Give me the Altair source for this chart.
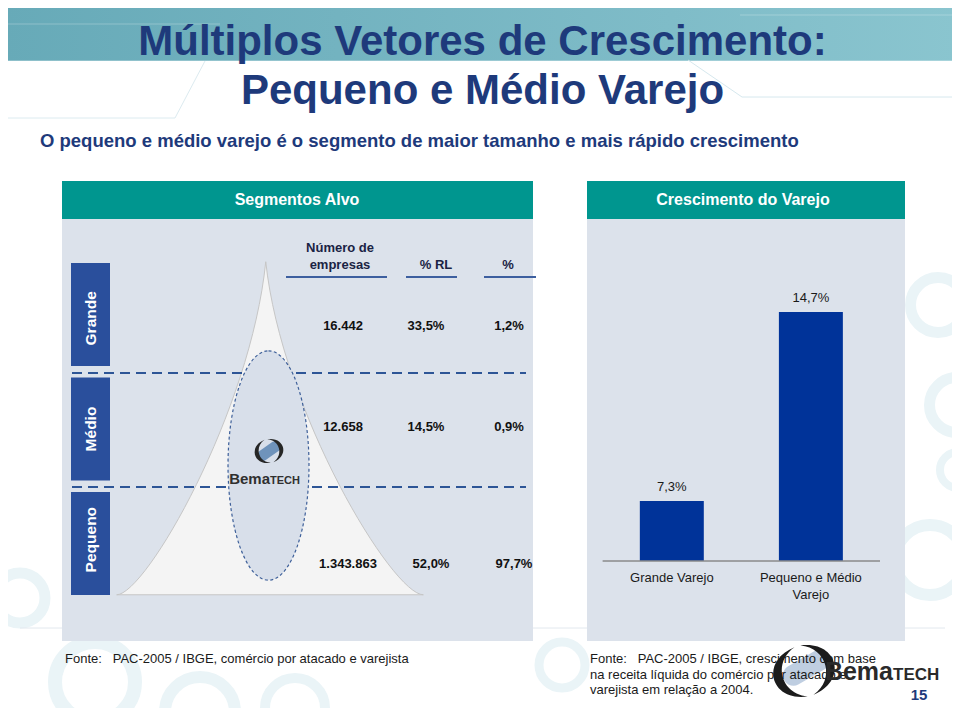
import altair as alt
import pandas as pd

# ---------------- data ----------------
segments = ["Grande", "Médio", "Pequeno"]
table_columns = ["Número de empresas", "% RL", "%"]
numero_empresas = ["16.442", "12.658", "1.343.863"]
pct_rl = ["33,5%", "14,5%", "52,0%"]
pct_empresas = ["1,2%", "0,9%", "97,7%"]

growth_categories = ["Grande Varejo", "Pequeno e Médio Varejo"]
growth_axis_labels = ["Grande Varejo", "Pequeno e Médio\nVarejo"]
growth_values = [7.3, 14.7]
growth_labels = ["7,3%", "14,7%"]

title_lines = ["Múltiplos Vetores de Crescimento:", "Pequeno e Médio Varejo"]
subtitle = "O pequeno e médio varejo é o segmento de maior tamanho e mais rápido crescimento"
left_header = "Segmentos Alvo"
right_header = "Crescimento do Varejo"
header_lines = ["Número de", "empresas", "% RL", "%"]
source_left = "Fonte:\u00a0\u00a0 PAC-2005 / IBGE, comércio por atacado e varejista"
source_right = ["Fonte:\u00a0\u00a0 PAC-2005 / IBGE, crescimento com base",
                "na receita líquida do comércio por atacado e",
                "varejista em relação a 2004."]
logo_word = ["Bema", "TECH"]
page_number = "15"

# ---------------- layout helpers ----------------
FONT = "Liberation Sans"
NAVY = "#1e3a7b"
TEAL = "#00968f"
PANEL = "#dce2eb"
W, H = 944, 700
one = pd.DataFrame({"k": [0]})


def P(v):
    return v - 8  # page pixel -> plot pixel (8px page margin)


def rect(x1, y1, x2, y2, **kw):
    return alt.Chart(one).mark_rect(**kw).encode(
        x=alt.value(P(x1)), x2=alt.value(P(x2)), y=alt.value(P(y1)), y2=alt.value(P(y2)))


def rule(x1, y1, x2, y2, **kw):
    return alt.Chart(one).mark_rule(**kw).encode(
        x=alt.value(P(x1)), x2=alt.value(P(x2)), y=alt.value(P(y1)), y2=alt.value(P(y2)))


def text(s, x, y, **kw):
    kw.setdefault("font", FONT)
    return alt.Chart(one).mark_text(text=s, **kw).encode(x=alt.value(P(x)), y=alt.value(P(y)))


def symbol(shape, x, y, size, **kw):
    return alt.Chart(one).mark_point(shape=shape, size=size, **kw).encode(
        x=alt.value(P(x)), y=alt.value(P(y)))


layers = []

# ---- slide background decoration ----
band = alt.LinearGradient(gradient="linear", x1=0, x2=1, y1=0, y2=0,
                          stops=[alt.GradientStop(color="#67aab8", offset=0),
                                 alt.GradientStop(color="#7fbcc8", offset=0.7),
                                 alt.GradientStop(color="#8ac5cf", offset=1)])
layers.append(rect(5, 0, 956, 60.7, fill=band))
layers.append(rule(5, 24, 220, 24, color="#ffffff", opacity=0.25, strokeWidth=1))
layers.append(rule(740, 15, 956, 15, color="#ffffff", opacity=0.25, strokeWidth=1))
layers.append(rule(688, 60, 742, 97, color="#d6e8ee", strokeWidth=1))
layers.append(rule(742, 97, 956, 97, color="#d6e8ee", strokeWidth=1))
layers.append(rule(5, 118, 175, 118, color="#dcebf0", strokeWidth=1))
layers.append(rule(175, 118, 205, 61, color="#dcebf0", strokeWidth=1))
for (cx, cy, d, w) in [(20, 598, 50, 11), (95, 682, 80, 14), (200, 712, 70, 12),
                       (295, 708, 60, 10), (938, 305, 55, 11), (957, 405, 55, 11),
                       (930, 560, 70, 12), (958, 470, 36, 8), (562, 665, 46, 9)]:
    layers.append(symbol("circle", cx, cy, d * d, filled=False, stroke="#eaf4f7",
                         strokeWidth=w, opacity=1))
layers.append(rule(20, 628, 945, 628, color="#e2e8ee", strokeWidth=1))
layers.append(rule(0, 712, 960, 712, color="#e6e6e6", strokeWidth=1))

# ---- titles ----
layers.append(text(title_lines[0], 482.5, 55, fontSize=42, fontWeight="bold", color=NAVY,
                   align="center", baseline="alphabetic"))
layers.append(text(title_lines[1], 482.5, 104, fontSize=42, fontWeight="bold", color=NAVY,
                   align="center", baseline="alphabetic"))
layers.append(text(subtitle, 40, 147, fontSize=18.5, fontWeight="bold", color=NAVY,
                   align="left", baseline="alphabetic"))

# ---- panels ----
layers.append(rect(62, 219, 533, 641, color=PANEL))
layers.append(rect(587, 219, 905, 641, color=PANEL))
layers.append(rect(62, 181, 533, 219, color=TEAL))
layers.append(rect(587, 181, 905, 219, color=TEAL))
layers.append(text(left_header, 297, 200, fontSize=16, fontWeight="bold", color="white",
                   align="center", baseline="middle"))
layers.append(text(right_header, 743, 200, fontSize=16, fontWeight="bold", color="white",
                   align="center", baseline="middle"))

# ---- pyramid, separators, ellipse, logo ----
tri_path = ("M -0.025 -0.978 C -0.114 -0.096 -0.731 0.981 -0.902 0.981 "
            "L 0.902 0.981 C 0.722 0.981 0.069 -0.096 -0.025 -0.978 Z")
layers.append(symbol(tri_path, 270, 428, 340 ** 2, filled=True, fill="#f4f4f4",
                     stroke="#c6c6c6", strokeWidth=1, opacity=1))
for yy in (373, 487):
    layers.append(rule(72, yy, 526, yy, color="#2d5596", strokeWidth=2.2, strokeDash=[10, 6]))
ell_path = ("M 0 -1 C 0.195 -1 0.353 -0.552 0.353 0 C 0.353 0.552 0.195 1 0 1 "
            "C -0.195 1 -0.353 0.552 -0.353 0 C -0.353 -0.552 -0.195 -1 0 -1 Z")
layers.append(symbol(ell_path, 268.5, 465.5, 229.4 ** 2, filled=True, fill="#d8dfea",
                     stroke="#3d5f99", strokeWidth=1.2, strokeDash=[3, 2.5], opacity=1))
left_cres = ("M -0.1 -0.85 C -1.35 -0.7 -1.35 0.7 -0.1 0.85 "
             "C -0.95 0.55 -0.95 -0.55 -0.1 -0.85 Z")
right_cres = ("M 0.1 0.85 C 1.35 0.7 1.35 -0.7 0.1 -0.85 "
              "C 0.95 -0.55 0.95 0.55 0.1 0.85 Z")
pill = ("M -0.6 -0.42 L 0.6 -0.42 C 0.82 -0.42 1 -0.22 1 0 C 1 0.22 0.82 0.42 0.6 0.42 "
        "L -0.6 0.42 C -0.82 0.42 -1 0.22 -1 0 C -1 -0.22 -0.82 -0.42 -0.6 -0.42 Z")
layers.append(symbol(pill, 269, 451, 26 ** 2, filled=True, fill="#6f93bb", angle=325, opacity=1))
layers.append(symbol(left_cres, 269, 451, 28 ** 2, filled=True, fill="#262626", angle=345, opacity=1))
layers.append(symbol(right_cres, 269, 451, 28 ** 2, filled=True, fill="#262626", angle=345, opacity=1))
layers.append(text(logo_word[0], 270, 484, fontSize=15, fontWeight="bold", color="#303030",
                   align="right", baseline="alphabetic"))
layers.append(text(logo_word[1], 270, 484, fontSize=11, fontWeight="bold", color="#303030",
                   align="left", baseline="alphabetic"))

# ---- segment boxes (band scale) ----
seg_df = pd.DataFrame({"segmento": segments})
seg_scale = alt.Scale(domain=segments, range=[P(263), P(595)], paddingInner=0.1, paddingOuter=0)
y_seg = alt.Y("segmento:N", sort=segments, axis=None, scale=seg_scale)
layers.append(alt.Chart(seg_df).mark_rect(color="#2a4f9c").encode(
    x=alt.value(P(71)), x2=alt.value(P(110)), y=y_seg))
layers.append(alt.Chart(seg_df).mark_text(angle=270, color="white", fontWeight="bold",
                                          fontSize=15.5, font=FONT, baseline="middle").encode(
    x=alt.value(P(91)), y=y_seg, text="segmento:N"))

# ---- table headers ----
HDR = "#1a2344"
layers.append(text(header_lines[0], 340, 248, fontSize=13, fontWeight="bold", color=HDR,
                   align="center", baseline="middle"))
layers.append(text(header_lines[1], 340, 265, fontSize=13, fontWeight="bold", color=HDR,
                   align="center", baseline="middle"))
layers.append(text(header_lines[2], 436, 265, fontSize=13, fontWeight="bold", color=HDR,
                   align="center", baseline="middle"))
layers.append(text(header_lines[3], 508, 265, fontSize=13, fontWeight="bold", color=HDR,
                   align="center", baseline="middle"))
for (a, b) in [(286, 387), (406, 457), (484, 536)]:
    layers.append(rule(a, 277, b, 277, color="#3d5f9f", strokeWidth=2))

# ---- table values ----
rows = []
for i, s in enumerate(segments):
    rows.append({"segmento": s, "coluna": table_columns[0], "valor": numero_empresas[i]})
    rows.append({"segmento": s, "coluna": table_columns[1], "valor": pct_rl[i]})
    rows.append({"segmento": s, "coluna": table_columns[2], "valor": pct_empresas[i]})
table_df = pd.DataFrame(rows)
x_col = alt.X("coluna:N", axis=None,
              scale=alt.Scale(type="point", domain=table_columns, range=[P(343), P(509)], padding=0))
row_offset = {"Grande": (0, 7.5), "Médio": (0, -2), "Pequeno": (5, 24)}
for s in segments:
    dx, dy = row_offset[s]
    layers.append(alt.Chart(table_df).transform_filter(alt.datum.segmento == s).mark_text(
        fontSize=13, fontWeight="bold", color="#111111", font=FONT, dx=dx, dy=dy,
        baseline="middle").encode(x=x_col, y=y_seg, text="valor:N"))

# ---- growth bar chart ----
growth_df = pd.DataFrame({"categoria": growth_categories, "crescimento": growth_values,
                          "rotulo": growth_labels, "rotulo_eixo": growth_axis_labels})
y_base = 4.95
y_top = 15
px_per_unit = 25.54
x_bar_scale = alt.Scale(domain=growth_categories, range=[P(602.7), P(880)],
                        paddingInner=0.54, paddingOuter=0.267)
y_bar_scale = alt.Scale(domain=[y_base, y_top],
                        range=[P(561), P(561 - px_per_unit * (y_top - y_base))], zero=False)
x_bar = alt.X("categoria:N", sort=growth_categories, axis=None, scale=x_bar_scale)
y_bar = alt.Y("crescimento:Q", axis=None, scale=y_bar_scale)
bar_base = alt.Chart(growth_df)
bars = bar_base.mark_bar(color="#003399").encode(x=x_bar, y=y_bar, y2=alt.datum(y_base))
bar_vals = bar_base.mark_text(fontSize=13, color="#1a1a1a", font=FONT, baseline="bottom",
                              dy=-7).encode(x=x_bar, y=y_bar, text="rotulo:N")
bar_cats = bar_base.mark_text(fontSize=13, color="#1a1a1a", font=FONT, baseline="top",
                              dy=11, lineBreak="\n", lineHeight=17).encode(
    x=x_bar, y=alt.YDatum(y_base, type="quantitative", scale=y_bar_scale), text="rotulo_eixo:N")
bar_axis = bar_base.mark_rule(color="#8a8a8a", strokeWidth=1).encode(
    x=alt.value(P(602.7)), x2=alt.value(P(880)),
    y=alt.YDatum(y_base, type="quantitative", scale=y_bar_scale))
layers.append(alt.layer(bars, bar_vals, bar_cats, bar_axis))

# ---- footer ----
layers.append(symbol(pill, 806, 668, 50 ** 2, filled=True, fill="#8aa6c8", angle=330, opacity=0.55))
layers.append(text(source_left, 65, 659, fontSize=13, color="#1a1a1a", align="left",
                   baseline="middle"))
for i, line in enumerate(source_right):
    layers.append(text(line, 590, 659 + 15.5 * i, fontSize=13, color="#1a1a1a", align="left",
                       baseline="middle"))
layers.append(symbol(left_cres, 804, 671, 60 ** 2, filled=True, fill="#1c1c1c", angle=345, opacity=1))
layers.append(symbol(right_cres, 804, 671, 60 ** 2, filled=True, fill="#1c1c1c", angle=345, opacity=1))
layers.append(text(logo_word[0], 893, 680, fontSize=25, fontWeight="bold", color="#2a2a2a",
                   align="right", baseline="alphabetic"))
layers.append(text(logo_word[1], 893, 680, fontSize=17, fontWeight="bold", color="#2a2a2a",
                   align="left", baseline="alphabetic"))
layers.append(text(page_number, 919, 695, fontSize=15, fontWeight="bold", color=NAVY,
                   align="center", baseline="middle"))

chart = alt.layer(*layers).resolve_scale(x="independent", y="independent").properties(
    width=W, height=H, padding=0, background="white",
    autosize=alt.AutoSizeParams(type="none")
).configure_view(stroke=None)

chart.save("out.html", embed_options={"renderer": "svg", "actions": False})
